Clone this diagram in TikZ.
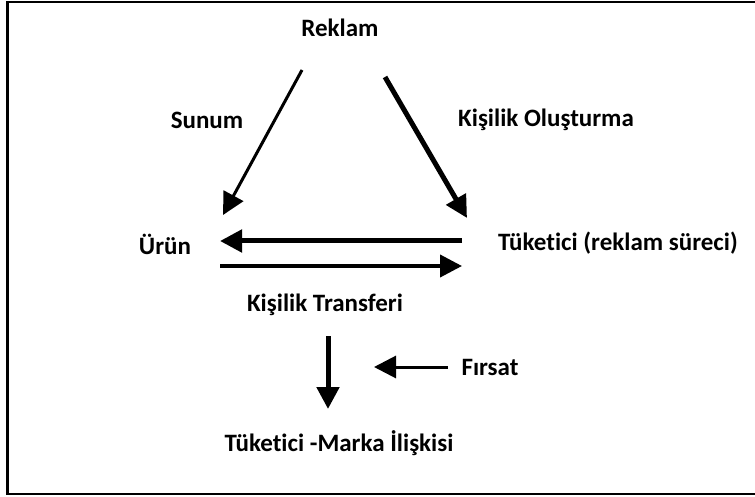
\documentclass[tikz,border=0pt]{standalone}
\usepackage{fontspec}
\setmainfont[Ligatures={NoCommon}]{Carlito}
\usetikzlibrary{arrows.meta}
\begin{document}
\begin{tikzpicture}[x=1pt,y=-1pt,
  lbl/.style={font=\fontsize{25}{29}\selectfont\bfseries, inner sep=0pt, anchor=center},
  flow/.style={-{Triangle[length=22pt,width=22pt]}, line width=#1},
  flow/.default=4pt]
\useasboundingbox (0,0) rectangle (755,497);
\clip (0,0) rectangle (755,497);
% outer frame
\draw[line width=2.5pt] (7.5,2) rectangle (770,494);
% labels
\node[lbl] (reklam) at (340,28) {Reklam};
\node[lbl] (sunum) at (207,120) {Sunum};
\node[lbl] (olus) at (546,120) {Kişilik Oluşturma};
\node[lbl] (urun) at (165,244) {Ürün};
\node[lbl] (tuk) at (618,243) {Tüketici (reklam süreci)};
\node[lbl] (transfer) at (325,305) {Kişilik Transferi};
\node[lbl] (firsat) at (490,367) {Fırsat};
\node[lbl] (iliski) at (339,443) {Tüketici -Marka İlişkisi};
% arrow end points
\coordinate (a1s) at (302,70);  \coordinate (a1e) at (223,215);
\coordinate (a2s) at (385,77);  \coordinate (a2e) at (467,218);
\coordinate (a3s) at (462,241); \coordinate (a3e) at (220,241);
\coordinate (a4s) at (220,266); \coordinate (a4e) at (462,266);
\coordinate (a5s) at (328,336); \coordinate (a5e) at (328,409);
\coordinate (a6s) at (448,367); \coordinate (a6e) at (374,367);
% connectors
\draw[flow=3pt] (a1s) -- (a1e);
\draw[flow=5pt] (a2s) -- (a2e);
\draw[flow=5pt] (a3s) -- (a3e);
\draw[flow=4pt] (a4s) -- (a4e);
\draw[flow=5pt] (a5s) -- (a5e);
\draw[flow=3pt] (a6s) -- (a6e);
\end{tikzpicture}
\end{document}
